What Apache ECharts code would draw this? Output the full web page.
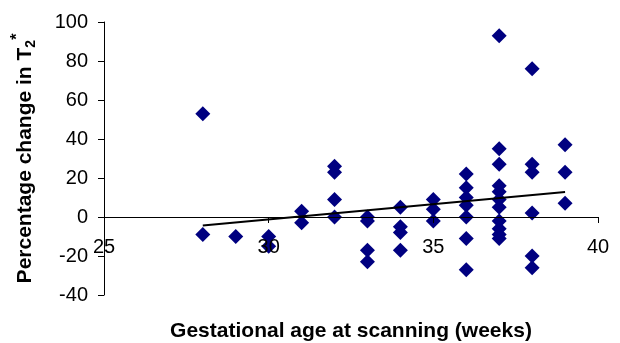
<!DOCTYPE html>
<html>
<head>
<meta charset="utf-8">
<script src="https://cdn.jsdelivr.net/npm/echarts@6/dist/echarts.min.js"></script>
<style>
    html, body { margin: 0; padding: 0; background: #fff; }
    #scatterchart { width: 620px; height: 343px; }
</style>
</head>
<body>
<div id="scatterchart"></div>
<script>
// gestational age (weeks) and % change in T2* for each scan
var ageWeeks = [
    28, 28,
    29,
    30, 30,
    31, 31,
    32, 32, 32, 32,
    33, 33, 33, 33,
    34, 34, 34, 34,
    35, 35, 35,
    36, 36, 36, 36, 36, 36, 36,
    37, 37, 37, 37, 37, 37, 37, 37, 37, 37, 37,
    38, 38, 38, 38, 38, 38,
    39, 39, 39
]
var pctChange = [
    53, -9,
    -10,
    -10, -15,
    3, -3,
    26, 23, 9, 0,
    0, -2, -17, -23,
    5, -5, -8, -17,
    9, 4, -2,
    22, 15, 10, 6, 0, -11, -27,
    93, 35, 27, 16, 13, 9, 5, -2, -6, -9, -11,
    76, 27, 23, 2, -20, -26,
    37, 23, 7
]
// linear trend line end points
var trendX = [28, 39]
var trendY = [-4.3, 12.8]

var xTicks = { min: 25, max: 40, step: 5 }
var yTicks = { min: -40, max: 100, step: 20 }

var points = ageWeeks.map(function (x, i) { return [x, pctChange[i]] })
var trend = trendX.map(function (x, i) { return [x, trendY[i]] })

var font = '"Liberation Sans", Arial, sans-serif'

// grid box; the x axis is lifted up to the y = 0 level
var gridTop = 22
var gridBottom = 48
var plotH = 343 - gridTop - gridBottom
var zeroLift = plotH * (0 - yTicks.min) / (yTicks.max - yTicks.min)

var chart = echarts.init(document.getElementById('scatterchart'))
chart.setOption({
    animation: false,
    textStyle: { fontFamily: font },
    grid: {
        left: 104,
        right: 22,
        top: gridTop,
        bottom: gridBottom,
        containLabel: false,
        outerBoundsMode: 'none',
    },
    xAxis: {
        type: 'value',
        min: xTicks.min,
        max: xTicks.max,
        interval: xTicks.step,
        offset: -zeroLift,
        z: 5,
        splitLine: { show: false },
        axisLine: { onZero: false, lineStyle: { color: '#000', width: 1 } },
        axisTick: { show: true, length: 6, lineStyle: { color: '#000' } },
        axisLabel: { color: '#000', fontSize: 20, fontFamily: font, margin: 20 },
        name: 'Gestational age at scanning (weeks)',
        nameLocation: 'middle',
        nameGap: 104,
        nameTextStyle: { color: '#000', fontSize: 21, fontWeight: 'bold', fontFamily: font },
    },
    yAxis: {
        type: 'value',
        min: yTicks.min,
        max: yTicks.max,
        interval: yTicks.step,
        splitLine: { show: false },
        axisLine: { show: true, onZero: false, lineStyle: { color: '#000', width: 1 } },
        axisTick: { show: true, length: 6, lineStyle: { color: '#000' } },
        axisLabel: { color: '#000', fontSize: 20, fontFamily: font, margin: 16 },
        name: '{b|Percentage change in T}{sub|2}{sup|*}',
        nameLocation: 'middle',
        nameRotate: 90,
        nameGap: 64,
        nameTextStyle: {
            color: '#000',
            fontFamily: font,
            rich: {
                b: { fontSize: 21, fontWeight: 'bold', lineHeight: 30, verticalAlign: 'middle' },
                sub: { fontSize: 14, fontWeight: 'bold', lineHeight: 14, verticalAlign: 'bottom', padding: [0, 0, 2, 0] },
                sup: { fontSize: 16, fontWeight: 'bold', lineHeight: 14, verticalAlign: 'top' },
            },
        },
    },
    series: [
        {
            name: 'scans',
            type: 'scatter',
            symbol: 'diamond',
            symbolSize: 15,
            itemStyle: { color: '#000080', opacity: 1 },
            data: points,
            z: 2,
        },
        {
            name: 'trend',
            type: 'line',
            symbol: 'none',
            lineStyle: { color: '#000', width: 2 },
            data: trend,
            z: 3,
        },
    ],
})
</script>
</body>
</html>
